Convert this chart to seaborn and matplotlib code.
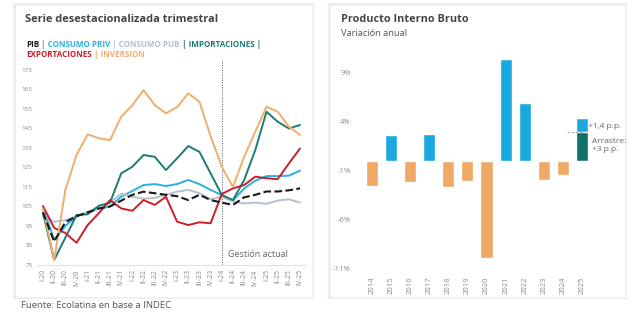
import numpy as np
import pandas as pd
import matplotlib
matplotlib.use("Agg")
import matplotlib.pyplot as plt
import seaborn as sns
from matplotlib.patches import FancyBboxPatch
from matplotlib.text import Annotation

# datos: serie desestacionalizada (base I-20 ~ 100)
trimestres = ["I-20", "II-20", "III-20", "IV-20",
              "I-21", "II-21", "III-21", "IV-21",
              "I-22", "II-22", "III-22", "IV-22",
              "I-23", "II-23", "III-23", "IV-23",
              "I-24", "II-24", "III-24", "IV-24",
              "I-25", "II-25", "III-25", "IV-25"]
pib = [102, 87, 97, 100, 102, 104, 105, 108, 111, 112.6, 111.8, 111,
       110.3, 108.3, 111, 108.3, 107, 105.8, 109.7, 111, 112.7, 112.7, 113.3, 114.3]
consumo_priv = [104, 88, 95, 100, 102, 104, 105, 110, 113, 116, 116.5, 115.5,
                116.5, 118.6, 116.5, 113.5, 110.9, 108, 114.3, 118.2, 120.6, 120.6, 120.8, 123.4]
consumo_pub = [100, 97.2, 98, 100, 102, 104, 107, 111.5, 110, 109, 109.4, 111,
               112.6, 113.5, 111.8, 108.7, 110, 107.5, 106.6, 107, 106.4, 108, 108.7, 107]
importaciones = [101.7, 77.6, 89, 100.6, 101, 105.4, 107, 122, 125.4, 131.4, 130.5, 123.7,
                 129.7, 136, 133, 122, 110.9, 108.3, 118.6, 134, 153.6, 148.5, 145, 146.8]
exportaciones = [105.2, 94, 91.4, 86.4, 95.5, 101.6, 108.3, 104, 102.8, 108.3, 105.8, 110,
                 97.2, 95.5, 96.9, 96.4, 111.4, 114.3, 116, 120.3, 119.5, 119, 127, 134.8]
inversion = [104, 77.5, 113.5, 131.4, 142, 140, 139, 151, 157, 164.7, 157, 152.8,
             156, 163, 158.7, 141, 125.4, 115, 130.5, 143.4, 156.2, 153.6, 146, 141.7]

# datos: PIB variación anual (%)
anios = ["2014", "2015", "2016", "2017", "2018", "2019",
         "2020", "2021", "2022", "2023", "2024", "2025"]
var_anual = [-2.5, 2.7, -2.1, 2.8, -2.6, -2.0, -9.9, 10.4, 5.9, -1.9, -1.4, 4.4]
arrastre = 3.0
extra_2025 = 1.4

series = {
    "PIB": pib,
    "CONSUMO PRIV": consumo_priv,
    "CONSUMO PUB": consumo_pub,
    "IMPORTACIONES": importaciones,
    "EXPORTACIONES": exportaciones,
    "INVERSION": inversion,
}
colores = {
    "PIB": "#1a1a1a",
    "CONSUMO PRIV": "#27b2e0",
    "CONSUMO PUB": "#b3c2cc",
    "IMPORTACIONES": "#1e7b70",
    "EXPORTACIONES": "#c81f2b",
    "INVERSION": "#f1ad6b",
}

df = pd.DataFrame({"trimestre": trimestres, **series})
df["idx"] = np.arange(len(trimestres))
largo = df.melt(id_vars=["trimestre", "idx"], var_name="serie", value_name="valor")

sns.set_theme(style="white")
plt.rcParams["font.family"] = ["Open Sans", "DejaVu Sans"]

fig = plt.figure(figsize=(6.32, 3.12), dpi=100)
fig.patch.set_facecolor("white")
W, H = 632, 312


def fx(px):
    return px / W


def fy(py):
    return 1 - py / H


# tarjetas blancas con sombra suave
for x0, y0, x1, y1 in [(15, 5, 312, 297), (330, 5, 625, 297)]:
    for k, a in [(3, 0.02), (2, 0.03), (1, 0.04)]:
        sh = FancyBboxPatch((fx(x0 - k), fy(y1 + k)), fx(x1 - x0 + 2 * k), (y1 - y0 + 2 * k) / H,
                            boxstyle="square,pad=0", transform=fig.transFigure,
                            facecolor="black", alpha=a, edgecolor="none", zorder=-3)
        fig.patches.append(sh)
    card = FancyBboxPatch((fx(x0), fy(y1)), fx(x1 - x0), (y1 - y0) / H,
                          boxstyle="square,pad=0", transform=fig.transFigure,
                          facecolor="white", edgecolor="#eeeeee", lw=0.5, zorder=-2)
    fig.patches.append(card)

# ---- panel izquierdo
ax1 = fig.add_axes([fx(37.4), fy(265), fx(268.2), 204.75 / H])
ax1.set_facecolor("none")
for nombre in series:
    d = largo[largo["serie"] == nombre]
    sns.lineplot(data=d, x="idx", y="valor", ax=ax1, color=colores[nombre],
                 lw=1.4 if nombre != "PIB" else 1.5,
                 linestyle="--" if nombre == "PIB" else "-",
                 zorder=3 if nombre == "PIB" else 2)
ax1.set_xlim(-0.5, len(trimestres) - 0.5)
ax1.set_ylim(75, 180)
ax1.set_yticks(np.arange(75, 176, 10))
ax1.set_xticks(df["idx"])
ax1.set_xticklabels(trimestres, rotation=90, fontsize=5, color="#8a8a8a")
ax1.tick_params(axis="y", labelsize=4.5, labelcolor="#8a8a8a", length=0, pad=3.5)
ax1.tick_params(axis="x", length=0, pad=3)
ax1.set_xlabel("")
ax1.set_ylabel("")
for s in ["top", "right", "left"]:
    ax1.spines[s].set_visible(False)
ax1.spines["bottom"].set_color("#e3e3e3")
ax1.spines["bottom"].set_linewidth(0.8)
corte = trimestres.index("I-24")
ax1.axvline(corte, color="#555555", lw=0.7, ls=(0, (1, 1.5)), zorder=1)
ax1.text(corte + 0.55, 78, "Gestión actual", fontsize=6.5, color="#666666", va="bottom")

fig.text(fx(25), fy(20), "Serie desestacionalizada trimestral", fontsize=7.9,
         fontweight="bold", color="#444444", va="center")


# leyenda en texto de colores
def linea_color(partes, x, y):
    prev = fig.text(x, y, partes[0][0], color=partes[0][1], fontsize=5.8,
                    fontweight="bold", va="baseline")
    for s, c in partes[1:]:
        prev = fig.add_artist(Annotation(
            s, xy=(1, 0), xycoords=prev, va="bottom", ha="left",
            color=c, fontsize=5.8, fontweight="bold"))


linea_color([("PIB", colores["PIB"]),
             (" | CONSUMO PRIV", colores["CONSUMO PRIV"]),
             (" | CONSUMO PUB", colores["CONSUMO PUB"]),
             (" | IMPORTACIONES |", colores["IMPORTACIONES"])], fx(26), fy(47))
linea_color([("EXPORTACIONES", colores["EXPORTACIONES"]),
             (" | INVERSION", colores["INVERSION"])], fx(26), fy(57))

# ---- panel derecho
ax2 = fig.add_axes([fx(360.5), fy(270.8), fx(252), 227.4 / H])
ax2.set_facecolor("none")
bars = pd.DataFrame({"anio": anios, "var": var_anual})
paleta = ["#1ba8df" if v > 0 else "#f0a866" for v in var_anual]
sns.barplot(data=bars, x="anio", y="var", hue="anio", palette=paleta, order=anios,
            legend=False, width=0.63, ax=ax2, saturation=1)
sns.barplot(x=["2025"], y=[arrastre], order=anios, color="#11706a", width=0.63,
            ax=ax2, saturation=1)
ax2.set_xlim(-0.6, 12.6)
ax2.set_ylim(-11.2, 12)
ax2.set_yticks([9, 4, -1, -6, -11])
ax2.set_yticklabels(["9%", "4%", "-1%", "-6%", "-11%"])
ax2.tick_params(axis="y", labelsize=5.5, labelcolor="#8a8a8a", length=0, pad=7)
ax2.tick_params(axis="x", labelsize=5.5, labelcolor="#8a8a8a", length=0, pad=4,
                rotation=90)
ax2.set_xlabel("")
ax2.set_ylabel("")
for s in ax2.spines.values():
    s.set_visible(False)
i25 = anios.index("2025")
ax2.plot([i25 - 0.8, i25 + 0.13], [arrastre, arrastre], color="#999999", lw=0.6,
         ls=(0, (3, 2)), zorder=5)
ax2.text(i25 + 0.34, arrastre + 0.5, "+1,4 p.p.",
         fontsize=6, color="#666666", va="center")
ax2.text(i25 + 0.5, arrastre - 1.45, "Arrastre:\n+3 p.p.",
         fontsize=6, color="#666666", va="center", linespacing=1.25)

fig.text(fx(341), fy(20), "Producto Interno Bruto", fontsize=7.8, fontweight="bold",
         color="#444444", va="center")
fig.text(fx(341), fy(33), "Variación anual", fontsize=6.7, color="#555555", va="center")

fig.text(fx(21), fy(305), "Fuente: Ecolatina en base a INDEC", fontsize=6.8,
         color="#555555", va="center")

fig.savefig("out.png", dpi=100)
